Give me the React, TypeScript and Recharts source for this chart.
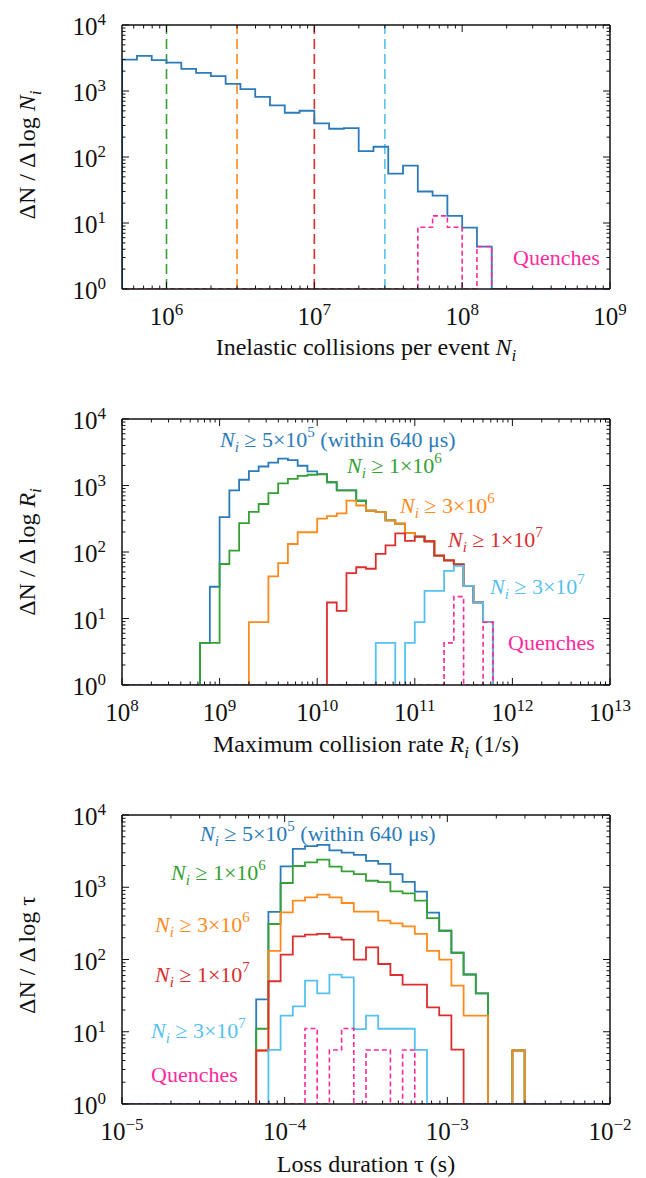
import React from 'react';
import { LineChart, Line, XAxis, YAxis, ReferenceLine } from 'recharts';

const FONT = '"Liberation Serif", "Times New Roman", Times, serif';

const BLUE = '#2b7bba';
const GREEN = '#35a035';
const ORANGE = '#ff8a1c';
const RED = '#db2e2e';
const SKY = '#56c1ee';
const PINK = '#ff2a9c';

const FLOOR = 1; // empty bins sit on the 10^0 floor

// top panel: inelastic collisions per event, 0.1 dex bins from 10^5.7
const NI_START = 5.7;
const NI_STEP = 0.1;
const niAll = [2990, 3400, 2930, 2700, 2160, 1880, 1680, 1280, 1070, 817, 604, 468, 502, 323, 268, 274, 123, 143, 56, 74, 30, 26, 12.8, 8.5, 4.4];
const niQuench = [0, 0, 0, 0, 0, 0, 0, 0, 0, 0, 0, 0, 0, 0, 0, 0, 0, 0, 0, 0, 8.6, 12.8, 8.6, 0, 4.4];
const niThresholds = [1e6, 3e6, 1e7, 3e7];
const niThresholdColors = [GREEN, ORANGE, RED, SKY];

// middle panel: maximum collision rate, 0.1 dex bins from 10^8.8
const R_START = 8.8;
const R_STEP = 0.1;
const rGe5e5 = [4.3, 30, 335, 845, 1220, 1650, 1930, 2210, 2540, 2400, 1980, 1630, 1480, 1120, 845, 845, 590, 420, 398, 298, 266, 193, 170, 145, 88, 75, 65, 31, 17.5, 8.8];
const rGe1e6 = [4.3, 4.3, 66, 105, 272, 400, 527, 770, 1075, 1260, 1400, 1450, 1470, 1120, 845, 845, 590, 420, 398, 298, 266, 193, 170, 145, 88, 75, 65, 31, 17.5, 8.8];
const rGe3e6 = [0, 0, 0, 0, 0, 8.8, 8.8, 43, 68, 132, 198, 198, 317, 347, 381, 591, 500, 420, 398, 298, 266, 193, 170, 145, 88, 75, 65, 31, 17.5, 8.8];
const rGe1e7 = [0, 0, 0, 0, 0, 0, 0, 0, 0, 0, 0, 0, 0, 17.4, 13, 48, 59, 56, 94, 126, 191, 147, 170, 145, 88, 75, 65, 31, 17.5, 8.8];
const rGe3e7 = [0, 0, 0, 0, 0, 0, 0, 0, 0, 0, 0, 0, 0, 0, 0, 0, 0, 0, 4.3, 4.3, 0, 4.3, 8.8, 26, 26, 52, 62, 31, 17.5, 8.8];
const rQuench = [0, 0, 0, 0, 0, 0, 0, 0, 0, 0, 0, 0, 0, 0, 0, 0, 0, 0, 0, 0, 0, 0, 0, 0, 0, 4.3, 21.3, 0, 0, 8.8];

// bottom panel: loss duration, 0.075 dex bins from 10^-4.175
const T_START = -4.175;
const T_STEP = 0.075;
const tGe5e5 = [28, 457, 1950, 3400, 3700, 3860, 3240, 3020, 2810, 2320, 2110, 1520, 1190, 870, 445, 250, 124, 62, 34, 0, 0, 5.5];
const tGe1e6 = [11, 310, 1145, 1970, 2210, 2410, 1930, 1660, 1520, 1230, 1180, 877, 824, 652, 375, 250, 124, 62, 34, 0, 0, 5.5];
const tGe3e6 = [5.5, 132, 450, 652, 725, 789, 725, 605, 459, 459, 345, 317, 288, 226, 132, 99.6, 43.5, 16.7, 16.7, 0, 0, 5.5];
const tGe1e7 = [5.5, 50, 117, 209, 221, 226, 203, 188, 99.6, 147, 86.7, 61, 44.9, 44.9, 21.8, 16.9, 5.65, 0, 0, 0, 0, 0];
const tGe3e7 = [0, 5.6, 16.7, 22.5, 51, 34, 61.7, 56.6, 10.9, 16.7, 11, 11, 11, 5.6, 0, 0, 0, 0, 0, 0, 0, 0];
const tQuench = [0, 0, 0, 0, 11.1, 0, 5.6, 11.1, 0, 5.6, 5.6, 0, 5.6, 0, 0, 0, 0, 0, 0, 0, 0, 0];

const NI_TICKS = [1e6, 1e7, 1e8, 1e9];
const R_TICKS = [1e8, 1e9, 1e10, 1e11, 1e12, 1e13];
const T_TICKS = [1e-5, 1e-4, 1e-3, 1e-2];
const Y_TICKS = [1, 10, 100, 1000, 10000];

const NI_DOMAIN: [number, number] = [5e5, 1e9];
const R_DOMAIN: [number, number] = [1e8, 1e13];
const T_DOMAIN: [number, number] = [1e-5, 1e-2];
const Y_DOMAIN: [number, number] = [1, 1e4];

// major ticks plus the 2..9 minor ticks of each decade inside the domain
function logTicks(majors: number[], domain: [number, number]) {
  const out = [...majors];
  const lo = Math.floor(Math.log10(domain[0]));
  const hi = Math.ceil(Math.log10(domain[1]));
  for (let d = lo; d < hi; d++) {
    for (let m = 2; m <= 9; m++) {
      const v = m * 10 ** d;
      if (v >= domain[0] * 1.0001 && v <= domain[1] * 0.9999) out.push(v);
    }
  }
  return out;
}

function buildRows(start: number, step: number, domain: [number, number], series: Record<string, number[]>) {
  const keys = Object.keys(series);
  const n = series[keys[0]].length;
  const flat = (x: number) => {
    const r: Record<string, number> = { x };
    keys.forEach((k) => (r[k] = FLOOR));
    return r;
  };
  const rows = [flat(domain[0])];
  for (let i = 0; i < n; i++) {
    const r: Record<string, number> = { x: 10 ** (start + i * step) };
    keys.forEach((k) => (r[k] = Math.max(series[k][i], FLOOR)));
    rows.push(r);
  }
  rows.push(flat(10 ** (start + n * step)));
  rows.push(flat(domain[1]));
  return rows;
}

function expText(v: number) {
  const e = Math.round(Math.log10(v));
  return e < 0 ? `\u2212${-e}` : `${e}`;
}

function LogTick(props: any) {
  const { x = 0, y = 0, payload, side } = props;
  const v = payload.value;
  const lg = Math.log10(v);
  const major = Math.abs(lg - Math.round(lg)) < 1e-6;
  const len = major ? 7 : 3.5;
  let line;
  if (side === 'bottom') line = <line x1={x} y1={y} x2={x} y2={y - len} />;
  else if (side === 'top') line = <line x1={x} y1={y} x2={x} y2={y + len} />;
  else if (side === 'left') line = <line x1={x} y1={y} x2={x + len} y2={y} />;
  else line = <line x1={x} y1={y} x2={x - len} y2={y} />;
  let label = null;
  if (major && side === 'bottom') {
    label = (
      <text x={x} y={y + 36} textAnchor="middle" fontSize={25} fontFamily={FONT} fill="#111" stroke="none">
        10<tspan fontSize={17} dy={-10}>{expText(v)}</tspan>
      </text>
    );
  } else if (major && side === 'left') {
    label = (
      <text x={x - 16} y={y + 10} textAnchor="end" fontSize={25} fontFamily={FONT} fill="#111" stroke="none">
        10<tspan fontSize={17} dy={-10}>{expText(v)}</tspan>
      </text>
    );
  }
  return (
    <g stroke="#111" strokeWidth={1}>
      {line}
      {label}
    </g>
  );
}

const frame = { stroke: '#111', strokeWidth: 1.5 };

type Series = { key: string; color: string; dashed?: boolean };

// plot box is given in chart pixels; each axis is 1px thick so it renders
function HistPanel(props: {
  top: number;
  height: number;
  plotTop: number;
  plotBottom: number;
  xDomain: [number, number];
  xTicks: number[];
  rows: Record<string, number>[];
  series: Series[];
  refLines?: { x: number; color: string }[];
}) {
  const { top, height, plotTop, plotBottom, xDomain, xTicks, rows, series, refLines = [] } = props;
  const xt = logTicks(xTicks, xDomain);
  const yt = logTicks(Y_TICKS, Y_DOMAIN);
  const margin = { top: plotTop - 1, bottom: height - plotBottom - 1, left: 121, right: 35 };
  const common = { type: 'number' as const, scale: 'log' as const, allowDataOverflow: true, interval: 0 as const, tickLine: false, tickSize: 0, tickMargin: 0, axisLine: frame };
  return (
    <div style={{ position: 'absolute', left: 0, top }}>
      <LineChart width={646} height={height} data={rows} margin={margin}>
        <XAxis xAxisId="b" dataKey="x" orientation="bottom" domain={xDomain} ticks={xt} height={1} tick={<LogTick side="bottom" />} {...common} />
        <XAxis xAxisId="t" dataKey="x" orientation="top" domain={xDomain} ticks={xt} height={1} tick={<LogTick side="top" />} {...common} />
        <YAxis yAxisId="l" orientation="left" domain={Y_DOMAIN} ticks={yt} width={1} tick={<LogTick side="left" />} {...common} />
        <YAxis yAxisId="r" orientation="right" domain={Y_DOMAIN} ticks={yt} width={1} tick={<LogTick side="right" />} {...common} />
        {refLines.map((r) => (
          <ReferenceLine key={r.x} xAxisId="b" yAxisId="l" x={r.x} stroke={r.color} strokeWidth={1.6} strokeDasharray="10 5" />
        ))}
        {series.map((s) => (
          <Line
            key={s.key}
            xAxisId="b"
            yAxisId="l"
            dataKey={s.key}
            type="stepAfter"
            stroke={s.color}
            strokeWidth={s.dashed ? 1.6 : 1.8}
            strokeDasharray={s.dashed ? '5 3' : undefined}
            dot={false}
            activeDot={false}
            isAnimationActive={false}
          />
        ))}
      </LineChart>
    </div>
  );
}

function NiText({ x, y, color, mant, exp, note }: { x: number; y: number; color: string; mant: string; exp: string; note?: string }) {
  return (
    <text x={x} y={y} fill={color} fontFamily={FONT} fontSize={22} style={{ whiteSpace: 'pre' }}>
      <tspan fontStyle="italic">N</tspan>
      <tspan fontStyle="italic" fontSize={15} dy={5}>i</tspan>
      <tspan dy={-5}>{` \u2265 ${mant}\u00d710`}</tspan>
      <tspan fontSize={15} dy={-10}>{exp}</tspan>
      {note ? <tspan dy={10}>{` ${note}`}</tspan> : null}
    </text>
  );
}

export default function App() {
  const niRows = buildRows(NI_START, NI_STEP, NI_DOMAIN, { all: niAll, quench: niQuench });
  const rRows = buildRows(R_START, R_STEP, R_DOMAIN, { a: rGe5e5, b: rGe1e6, c: rGe3e6, d: rGe1e7, e: rGe3e7, q: rQuench });
  const tRows = buildRows(T_START, T_STEP, T_DOMAIN, { a: tGe5e5, b: tGe1e6, c: tGe3e6, d: tGe1e7, e: tGe3e7, q: tQuench });
  const multi: Series[] = [
    { key: 'a', color: BLUE },
    { key: 'b', color: GREEN },
    { key: 'c', color: ORANGE },
    { key: 'd', color: RED },
    { key: 'e', color: SKY },
    { key: 'q', color: PINK, dashed: true },
  ];

  return (
    <div style={{ position: 'absolute', left: 0, top: 0, width: 646, height: 1178, background: '#fff', fontFamily: FONT }}>
      <HistPanel
        top={0}
        height={390}
        plotTop={25}
        plotBottom={289}
        xDomain={NI_DOMAIN}
        xTicks={NI_TICKS}
        rows={niRows}
        series={[{ key: 'all', color: BLUE }, { key: 'quench', color: PINK, dashed: true }]}
        refLines={niThresholds.map((x, i) => ({ x, color: niThresholdColors[i] }))}
      />
      <HistPanel top={390} height={390} plotTop={29} plotBottom={295} xDomain={R_DOMAIN} xTicks={R_TICKS} rows={rRows} series={multi} />
      <HistPanel top={780} height={398} plotTop={35} plotBottom={324} xDomain={T_DOMAIN} xTicks={T_TICKS} rows={tRows} series={multi} />

      <svg width={646} height={1178} style={{ position: 'absolute', left: 0, top: 0, pointerEvents: 'none' }} fontFamily={FONT}>
        {/* axis titles */}
        <g fill="#111" fontSize={24} style={{ whiteSpace: 'pre' }}>
          <text transform="translate(35,155) rotate(-90)" textAnchor="middle">
            {'\u0394N / \u0394 log '}
            <tspan fontStyle="italic">N</tspan>
            <tspan fontStyle="italic" fontSize={17} dy={6}>i</tspan>
          </text>
          <text transform="translate(35,552) rotate(-90)" textAnchor="middle">
            {'\u0394N  / \u0394 log '}
            <tspan fontStyle="italic">R</tspan>
            <tspan fontStyle="italic" fontSize={17} dy={6}>i</tspan>
          </text>
          <text transform="translate(35,955) rotate(-90)" textAnchor="middle">
            {'\u0394N  / \u0394 log \u03c4'}
          </text>
          <text x={366} y={355} textAnchor="middle">
            {'Inelastic collisions per event '}
            <tspan fontStyle="italic">N</tspan>
            <tspan fontStyle="italic" fontSize={17} dy={6}>i</tspan>
          </text>
          <text x={366} y={752} textAnchor="middle">
            {'Maximum collision rate '}
            <tspan fontStyle="italic">R</tspan>
            <tspan fontStyle="italic" fontSize={17} dy={6}>i</tspan>
            <tspan dy={-6}>{' (1/s)'}</tspan>
          </text>
          <text x={366} y={1172} textAnchor="middle">
            {'Loss duration \u03c4 (s)'}
          </text>
        </g>

        {/* top panel */}
        <text x={513} y={265} fill={PINK} fontSize={22}>Quenches</text>

        {/* middle panel */}
        <NiText x={220} y={447} color={BLUE} mant="5" exp="5" note={'(within 640 \u03bcs)'} />
        <NiText x={347} y={473} color={GREEN} mant="1" exp="6" />
        <NiText x={400} y={513} color={ORANGE} mant="3" exp="6" />
        <NiText x={448} y={547} color={RED} mant="1" exp="7" />
        <NiText x={490} y={594} color={SKY} mant="3" exp="7" />
        <text x={508} y={650} fill={PINK} fontSize={22}>Quenches</text>

        {/* bottom panel */}
        <NiText x={200} y={841} color={BLUE} mant="5" exp="5" note={'(within 640 \u03bcs)'} />
        <NiText x={171} y={880} color={GREEN} mant="1" exp="6" />
        <NiText x={155} y={932} color={ORANGE} mant="3" exp="6" />
        <NiText x={155} y={982} color={RED} mant="1" exp="7" />
        <NiText x={151} y={1038} color={SKY} mant="3" exp="7" />
        <text x={151} y={1082} fill={PINK} fontSize={22}>Quenches</text>
      </svg>
    </div>
  );
}
